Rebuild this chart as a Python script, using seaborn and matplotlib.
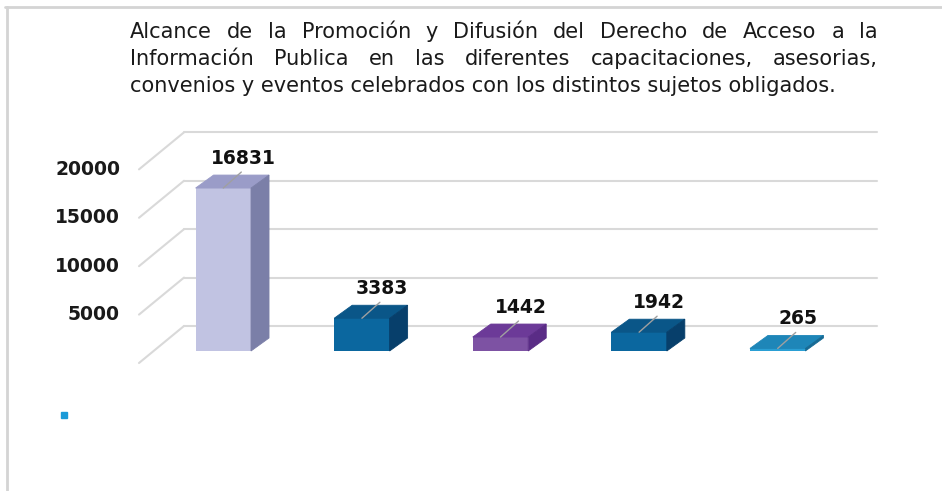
import numpy as np
import pandas as pd
import matplotlib
matplotlib.use('Agg')
import matplotlib.pyplot as plt
import seaborn as sns
from matplotlib.patches import Polygon
from matplotlib.lines import Line2D

# datos
titulo = ['Alcance de la Promoción y Difusión del Derecho de Acceso a la',
          'Información Publica en las diferentes capacitaciones, asesorias,',
          'convenios y eventos celebrados con los distintos sujetos obligados.']
categorias = ['1', '2', '3', '4', '5']
valores = [16831, 3383, 1442, 1942, 265]
marcas_y = [0, 5000, 10000, 15000, 20000]
etiquetas_y = ['', '5000', '10000', '15000', '20000']

colores_frente = ['#c1c3e2', '#0b679f', '#7d52a3', '#0b679f', '#2a9fd4']
colores_arriba = ['#9a9cc8', '#0a5688', '#6c3a98', '#0a5688', '#1e86b8']
colores_lado = ['#7b7fa8', '#073f6b', '#5a2c86', '#073f6b', '#166a94']

sns.set_style('white')
plt.rcParams['font.family'] = ['DejaVu Sans']

W, H = 942, 491
fig = plt.figure(figsize=(W / 100, H / 100), dpi=100)
ax = fig.add_axes([154 / W, 140 / H, 693 / W, 213 / H])

df = pd.DataFrame({'cat': categorias, 'val': valores})
sns.barplot(data=df, x='cat', y='val', hue='cat', palette=colores_frente,
            width=0.4, saturation=1, legend=False, ax=ax, zorder=3,
            linewidth=0)
ax.set_xlim(-0.5, 4.5)
ax.set_ylim(0, 22000)
ax.set_axis_off()

# pixeles -> unidades de datos
px_x = 693 / 5
px_y = 213 / 22000
def off(px, py):
    return px / px_x, py / px_y

bdx, bdy = off(18, 13)   # profundidad de la barra
wdx, wdy = off(30, 25)   # pared del fondo
fdx, fdy = off(-15, -12)  # plano frontal

gris = '#d9d9d9'
for t, et in zip(marcas_y, etiquetas_y):
    ax.plot([-0.5 + wdx, 4.5 + wdx], [t + wdy, t + wdy], color=gris, lw=1.5,
            clip_on=False, zorder=1)
    ax.plot([-0.5 + fdx, -0.5 + wdx], [t + fdy, t + wdy], color=gris, lw=1.5,
            clip_on=False, zorder=1)
    if et:
        ax.text(-0.5 + fdx - off(19, 0)[0], t + fdy, et, ha='right', va='center',
                fontsize=13.5, fontweight='bold', color='#1a1a1a')

# caras 3D
for p, v, ca, cl in zip(ax.patches, valores, colores_arriba, colores_lado):
    x0, w, h = p.get_x(), p.get_width(), p.get_height()
    ax.add_patch(Polygon([(x0, h), (x0 + w, h), (x0 + w + bdx, h + bdy), (x0 + bdx, h + bdy)],
                         closed=True, facecolor=ca, edgecolor=ca, lw=0.6, zorder=4, clip_on=False))
    ax.add_patch(Polygon([(x0 + w, 0), (x0 + w + bdx, bdy), (x0 + w + bdx, h + bdy), (x0 + w, h)],
                         closed=True, facecolor=cl, edgecolor=cl, lw=0.6, zorder=4, clip_on=False))
    cx = x0 + w / 2
    lx = cx + off(20, 0)[0]
    ly = h + off(0, 30)[1]
    ax.plot([cx, lx - off(2, 0)[0]], [h, ly - off(0, 14)[1]], color='#a0a0a0', lw=1,
            zorder=5, clip_on=False)
    ax.text(lx, ly, str(v), ha='center', va='center', fontsize=13.5,
            fontweight='bold', color='#111111', zorder=6)

# titulo justificado
r = fig.canvas.get_renderer()
def ancho(txt, size):
    t = fig.text(0, 0, txt, fontsize=size)
    w = t.get_window_extent(renderer=r).width
    t.remove()
    return w

tam = 13 * 705 / ancho(titulo[2], 13)
x_izq, x_der = 130, 878
bases = [38, 65, 92]
for i, linea in enumerate(titulo):
    yb = 1 - bases[i] / H
    if i == len(titulo) - 1:
        fig.text(x_izq / W, yb, linea, fontsize=tam, va='baseline', color='#1a1a1a')
        continue
    palabras = linea.split()
    anchos = [ancho(pl, tam) for pl in palabras]
    hueco = (x_der - x_izq - sum(anchos)) / (len(palabras) - 1)
    x = x_izq
    for pl, a in zip(palabras, anchos):
        fig.text(x / W, yb, pl, fontsize=tam, va='baseline', color='#1a1a1a')
        x += a + hueco

# marcador de leyenda
fig.add_artist(Line2D([64 / W], [1 - 415 / H], marker='s', markersize=5,
                      color='#1a9ad8', linestyle='none'))

# borde
fig.add_artist(Line2D([5 / W, 1], [1 - 7 / H, 1 - 7 / H], color='#d4d4d4', lw=2))
fig.add_artist(Line2D([7 / W, 7 / W], [1 - 7 / H, 0], color='#d4d4d4', lw=2))

fig.savefig('out.png', dpi=100)
